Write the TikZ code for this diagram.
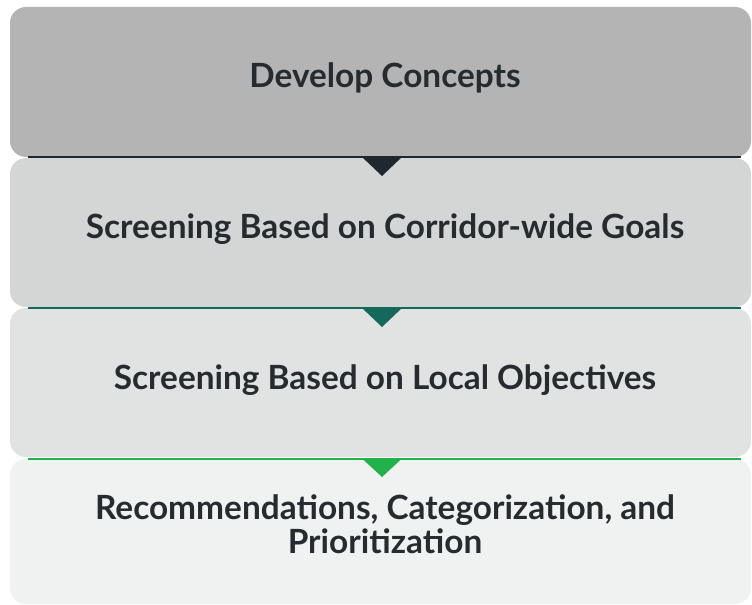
\documentclass[tikz,border=0pt]{standalone}
\usepackage{fontspec}
\setmainfont{Lato}
\begin{document}
\begin{tikzpicture}[x=1bp,y=-1bp,
  stage/.style={rounded corners=16bp, draw=none},
  lbl/.style={font=\bfseries\fontsize{33.5}{34}\selectfont, text=txt, align=center},
  sep/.style={line width=2bp},
  tri/.style={draw=none}]
\definecolor{txt}{HTML}{262B2F}
\definecolor{f1}{HTML}{B4B4B4}
\definecolor{f2}{HTML}{D4D5D5}
\definecolor{f3}{HTML}{E1E2E2}
\definecolor{f4}{HTML}{F0F1F1}
\definecolor{c1}{HTML}{1F282E}
\definecolor{c2}{HTML}{14695C}
\definecolor{c3}{HTML}{22B24C}
\useasboundingbox (0,0) rectangle (752,605);
% boxes
\fill[stage,f1] (10,7) rectangle (751,157);
\fill[stage,f2] (10,158) rectangle (751,307);
\fill[stage,f3] (10,308) rectangle (751,457);
\fill[stage,f4] (10,459) rectangle (751,604);
% separators
\coordinate (l1a) at (28,157); \coordinate (l1b) at (741,157);
\coordinate (l2a) at (28,308); \coordinate (l2b) at (741,308);
\coordinate (l3a) at (28,458.5); \coordinate (l3b) at (741,458.5);
\draw[sep,c1] (l1a) -- (l1b);
\draw[sep,c2] (l2a) -- (l2b);
\draw[sep,c3] (l3a) -- (l3b);
\fill[tri,c1] (362,157) -- (402,157) -- (382,176) -- cycle;
\fill[tri,c2] (362,308) -- (402,308) -- (382,327) -- cycle;
\fill[tri,c3] (362,458.5) -- (402,458.5) -- (382,477) -- cycle;
% labels
\node[lbl] (t1) at (385,78) {Develop Concepts};
\node[lbl] (t2) at (385,229) {Screening Based on Corridor-wide Goals};
\node[lbl] (t3) at (385,380) {Screening Based on Local Objectives};
\node[lbl] (t4) at (385,524) {Recommendations, Categorization, and\\Prioritization};
\end{tikzpicture}
\end{document}
